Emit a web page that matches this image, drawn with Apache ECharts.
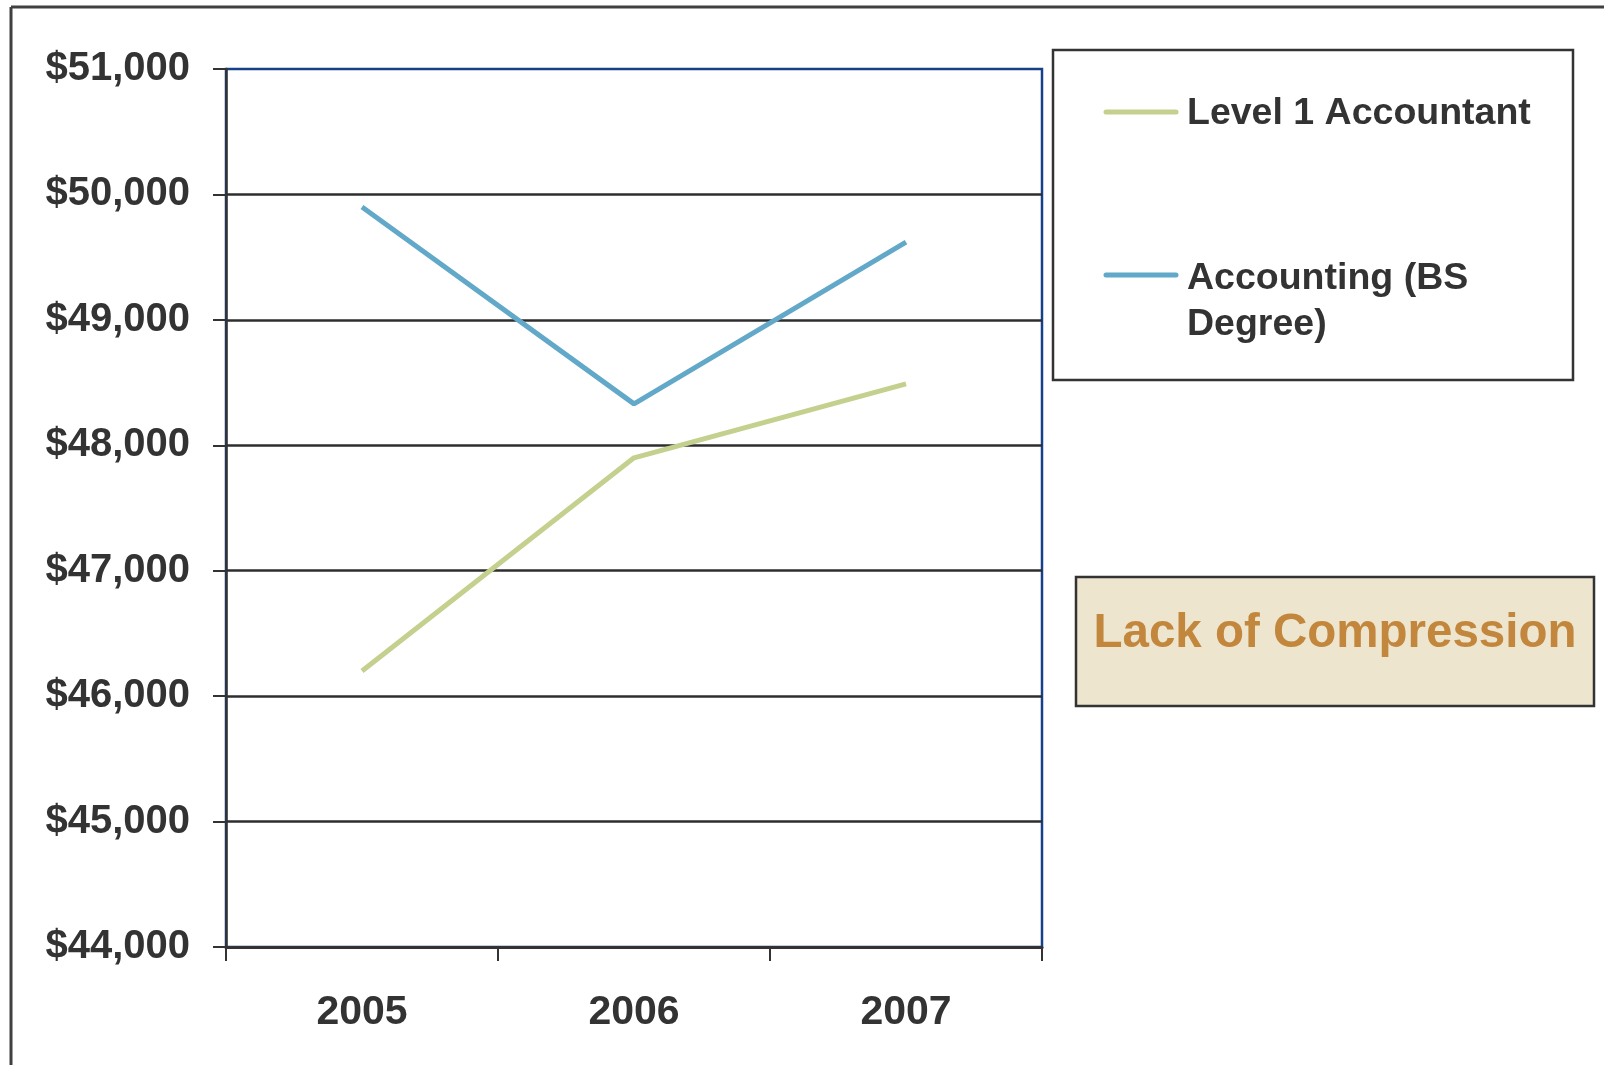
<!DOCTYPE html>
<html>
<head>
<meta charset="utf-8">
<script src="https://cdn.jsdelivr.net/npm/echarts@6/dist/echarts.min.js"></script>
<style>
html,body{margin:0;padding:0;background:#fff;}
#chart{width:1604px;height:1065px;}
</style>
</head>
<body>
<div id="chart"></div>
<script>
const years = ['2005', '2006', '2007'];
const level1Accountant = [46200, 47900, 48490];
const accountingBS = [49900, 48330, 49620];
const yTicks = [44000, 45000, 46000, 47000, 48000, 49000, 50000, 51000];
const seriesNames = ['Level 1 Accountant', 'Accounting (BS Degree)'];
const seriesColors = ['#C4D08D', '#62A8C8'];
const annotationText = 'Lack of Compression';

const FONT = '"Liberation Sans", Arial, sans-serif';
const chart = echarts.init(document.getElementById('chart'));

chart.setOption({
  backgroundColor: '#ffffff',
  animation: false,
  grid: {
    left: 226, right: 562, top: 69, bottom: 118,
    show: true, borderColor: '#17408A', borderWidth: 2.5, backgroundColor: 'transparent'
  },
  xAxis: {
    type: 'category',
    data: years,
    boundaryGap: true,
    axisLine: { show: true, lineStyle: { color: '#333333', width: 3 } },
    axisTick: { show: true, length: 14, lineStyle: { color: '#333333', width: 2 } },
    axisLabel: { margin: 45, color: '#333333', fontFamily: FONT, fontWeight: 'bold', fontSize: 41 },
    splitLine: { show: false }
  },
  yAxis: {
    type: 'value',
    min: yTicks[0],
    max: yTicks[yTicks.length - 1],
    interval: 1000,
    axisLine: { show: true, lineStyle: { color: '#333333', width: 2.5 } },
    axisTick: { show: true, length: 13, lineStyle: { color: '#333333', width: 2 } },
    axisLabel: {
      margin: 36, color: '#333333', fontFamily: FONT, fontWeight: 'bold', fontSize: 40,
      formatter: v => '$' + v.toLocaleString('en-US')
    },
    splitLine: { show: true, showMaxLine: false, showMinLine: false, lineStyle: { color: '#2e2e2e', width: 2.5 } }
  },
  series: [
    {
      name: seriesNames[0], type: 'line', data: level1Accountant,
      symbol: 'none', lineStyle: { color: seriesColors[0], width: 5 }, itemStyle: { color: seriesColors[0] }, z: 3
    },
    {
      name: seriesNames[1], type: 'line', data: accountingBS,
      symbol: 'none', lineStyle: { color: seriesColors[1], width: 5 }, itemStyle: { color: seriesColors[1] }, z: 3
    }
  ],
  graphic: [
    // outer frame (top and left edges)
    { type: 'line', shape: { x1: 11, y1: 7, x2: 1604, y2: 7 }, style: { stroke: '#404040', lineWidth: 3 } },
    { type: 'line', shape: { x1: 11, y1: 7, x2: 11, y2: 1065 }, style: { stroke: '#404040', lineWidth: 3 } },
    // legend box
    { type: 'rect', shape: { x: 1053, y: 50, width: 520, height: 330 }, style: { fill: '#ffffff', stroke: '#333333', lineWidth: 2.5 } },
    { type: 'line', shape: { x1: 1106, y1: 112, x2: 1176, y2: 112 }, style: { stroke: seriesColors[0], lineWidth: 5, lineCap: 'round' } },
    { type: 'text', x: 1187, y: 114, style: { text: 'Level 1 Accountant', fill: '#333333', font: 'bold 37.5px ' + FONT, verticalAlign: 'middle' } },
    { type: 'line', shape: { x1: 1106, y1: 275, x2: 1176, y2: 275 }, style: { stroke: seriesColors[1], lineWidth: 5, lineCap: 'round' } },
    { type: 'text', x: 1187, y: 256, style: { text: 'Accounting (BS\nDegree)', fill: '#333333', font: 'bold 37.5px ' + FONT, lineHeight: 46, verticalAlign: 'top' } },
    // annotation box
    { type: 'rect', shape: { x: 1076, y: 577, width: 518, height: 129 }, style: { fill: '#EDE5CE', stroke: '#333333', lineWidth: 2.5 } },
    { type: 'text', x: 1335, y: 634, style: { text: annotationText, fill: '#C2873D', font: 'bold 47.5px ' + FONT, align: 'center', verticalAlign: 'middle' } }
  ]
});
</script>
</body>
</html>
